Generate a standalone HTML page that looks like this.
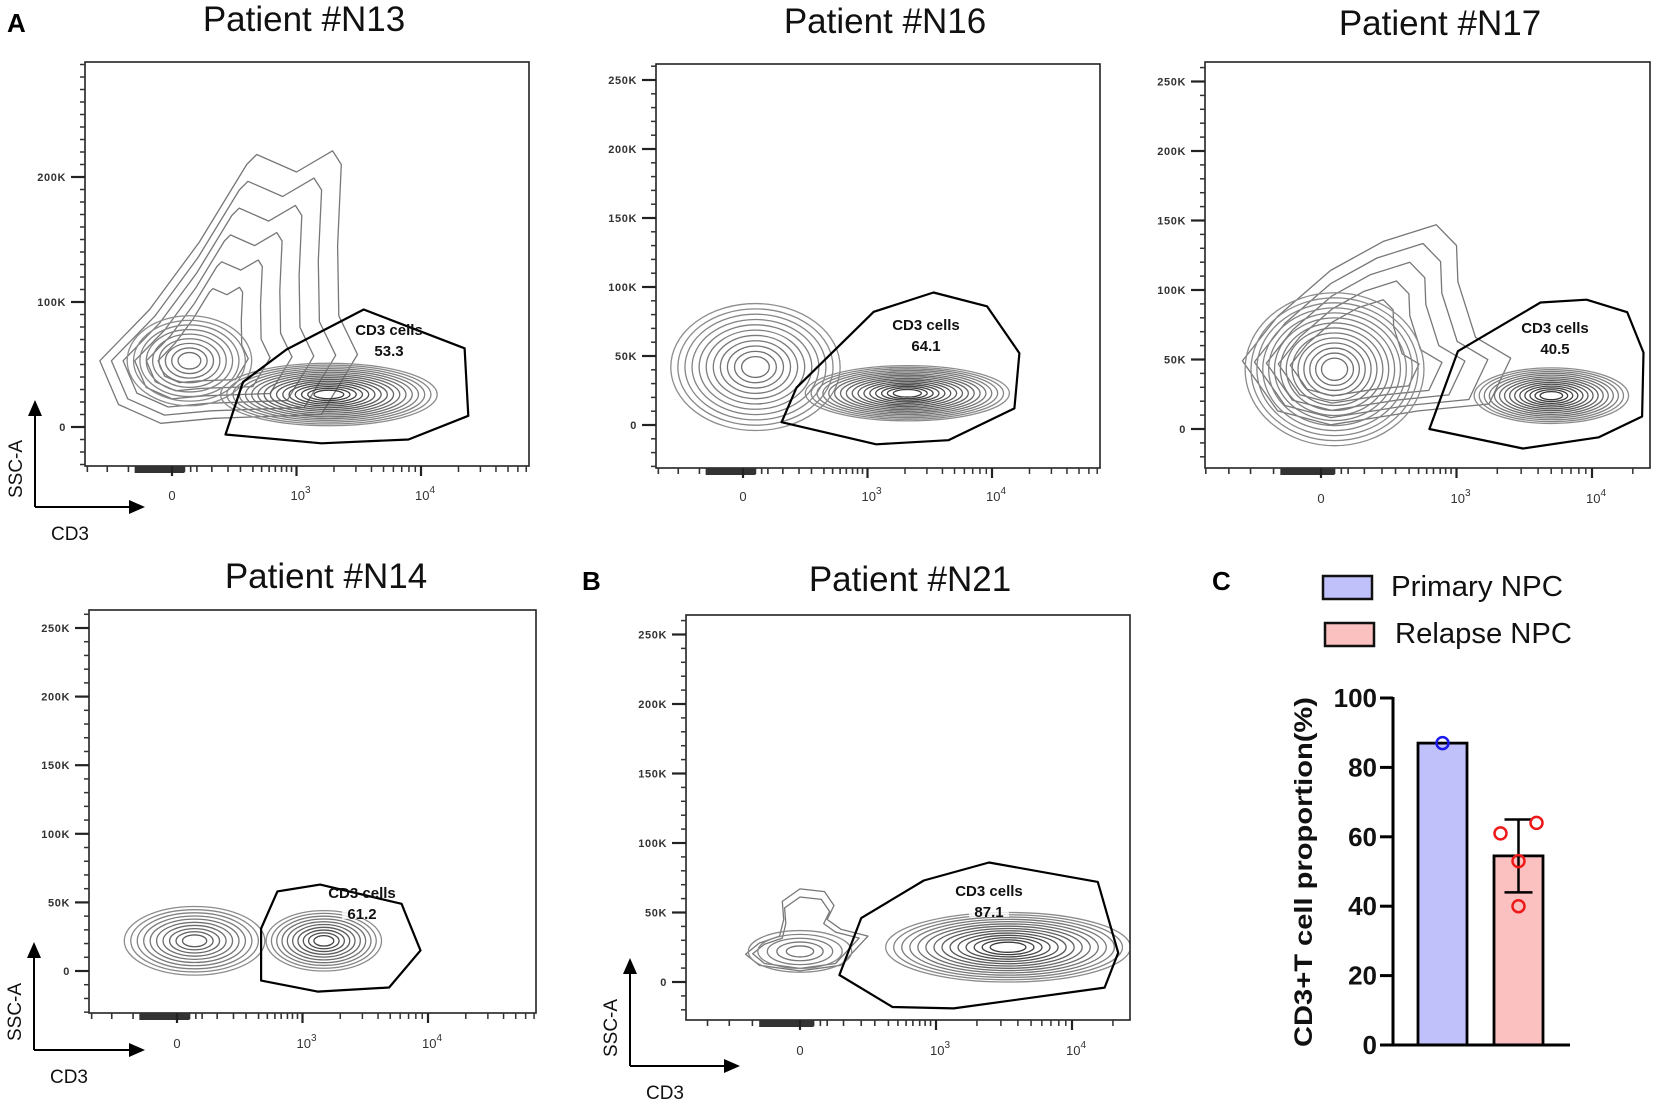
<!DOCTYPE html>
<html><head><meta charset="utf-8">
<style>
html,body{margin:0;padding:0;background:#fff;}
svg{display:block;}
text{font-family:"Liberation Sans",sans-serif;}
</style></head>
<body>
<svg id="fig" width="1655" height="1102" viewBox="0 0 1655 1102" xmlns="http://www.w3.org/2000/svg">
<text x="7" y="32" font-size="26" font-weight="bold">A</text>
<text x="582" y="590" font-size="26" font-weight="bold">B</text>
<text x="1212" y="590" font-size="26" font-weight="bold">C</text>
</svg>
<script>
// ---------- flow cytometry data (x in decades: 0 -> "0", 1 -> 10^3, 2 -> 10^4; y in K) ----------
const panelTitles = ["Patient #N13","Patient #N16","Patient #N17","Patient #N14","Patient #N21"];
const gatePercents = ["53.3","64.1","40.5","61.2","87.1"];
const yTicksN13 = [0,100,200];
const yTicksStd = [0,50,100,150,200,250];
const xTickLabels = ["0","10","10"];
const xTickExp = ["","3","4"];
const xTickDec = [0,1,2];
const gateN13 = [[0.43,-6],[0.57,36],[0.92,62],[1.54,94],[2.35,63],[2.38,9],[1.90,-10],[1.20,-13]];
const gateN16 = [[0.31,2],[0.43,27],[1.05,82],[1.53,96],[1.96,86],[2.22,52],[2.18,12],[1.65,-11],[1.07,-14]];
const gateN17 = [[0.80,0],[1.01,56],[1.62,91],[1.96,93],[2.26,84],[2.38,55],[2.37,9],[2.05,-6],[1.49,-14]];
const gateN14 = [[0.67,-7],[0.67,31],[0.80,58],[1.14,63],[1.79,49],[1.82,42],[1.94,15],[1.69,-12],[1.12,-15]];
const gateN21 = [[0.29,5],[0.45,46],[0.91,73],[1.39,86],[2.19,72],[2.34,21],[2.24,-4],[1.13,-19],[0.68,-18]];
// populations: [centerDec, centerK, radiusDec, radiusK, rings, density]
const popsN13 = [[0.14,53,0.5,36,9,0.3],[1.26,26,0.87,25,16,0.8]];
const popsN16 = [[0.1,42,0.68,46,11,0.3],[1.32,23,0.82,20,16,0.8]];
const popsN17 = [[0.1,43,0.66,55,14,0.3],[1.7,24,0.57,20,14,0.85]];
const popsN14 = [[0.14,22,0.56,25,10,0.5],[1.17,22,0.46,22,10,0.75]];
const popsN21 = [[0.0,22,0.38,15,5,0.3],[1.53,25,0.9,25,14,0.8]];
// irregular outer contours
const outerN13 = [[-0.58,53],[-0.18,94],[0.22,148],[0.6,210],[0.68,218],[1.0,204],[1.29,221],[1.36,210],[1.33,145],[1.34,89],[1.49,58],[1.2,10],[0.34,7],[-0.09,3],[-0.43,18]];
const outerN17 = [[-0.58,49],[-0.32,81],[0.07,114],[0.46,135],[0.85,147],[1.0,132],[1.01,106],[1.14,66],[1.4,51],[1.24,18],[0.72,13],[0.07,3],[-0.32,13]];
const outerN21 = [[-0.4,20],[-0.3,28],[-0.15,33],[-0.12,45],[-0.13,58],[0,67],[0.18,65],[0.25,55],[0.2,45],[0.3,38],[0.5,33],[0.3,12],[0,8],[-0.3,12]];

// ---------- bar chart data ----------
const barCategories = ["Primary NPC","Relapse NPC"];
const barMeans = [87, 54.5];
const barSD = [0, 10.5];
const primaryPoints = [87];
const relapsePoints = [61, 64, 53, 40];
const barYTicks = [0,20,40,60,80,100];

const NS = "http://www.w3.org/2000/svg";
const svg = document.getElementById('fig');
function mk(tag, attrs, parent){
  const e = document.createElementNS(NS, tag);
  for (const k in attrs) e.setAttribute(k, attrs[k]);
  (parent||svg).appendChild(e);
  return e;
}

const layouts = [
  {tx:304, ty:31, box:[85,62,529,466], x0:172, dpx:124.5, y0:427, kpx:1.25, yt:yTicksN13, ymax:290, gate:gateN13, pops:popsN13, outer:outerN13, orings:6, lbl:[389,330], arrow:true, xl:495, name:'n13', ax:35, atop:400, acorner:507, aright:145},
  {tx:885, ty:33, box:[656,64,1100,468], x0:743, dpx:124.5, y0:425, kpx:1.38, yt:yTicksStd, ymax:262, gate:gateN16, pops:popsN16, outer:null, orings:0, lbl:[926,325], arrow:false, xl:496, name:'n16'},
  {tx:1440, ty:35, box:[1205,62,1650,468], x0:1321, dpx:135.5, y0:429, kpx:1.39, yt:yTicksStd, ymax:262, gate:gateN17, pops:popsN17, outer:outerN17, orings:5, lbl:[1555,328], arrow:false, xl:498, name:'n17'},
  {tx:326, ty:588, box:[89,610,536,1013], x0:177, dpx:125.5, y0:971, kpx:1.372, yt:yTicksStd, ymax:262, gate:gateN14, pops:popsN14, outer:null, orings:0, lbl:[362,893], arrow:true, xl:1043, name:'n14', ax:34, atop:942, acorner:1050, aright:145},
  {tx:910, ty:591, box:[686,615,1130,1020], x0:800, dpx:136, y0:982, kpx:1.39, yt:yTicksStd, ymax:262, gate:gateN21, pops:popsN21, outer:outerN21, orings:2, lbl:[989,891], arrow:true, xl:1050, name:'n21', ax:630, atop:958, acorner:1066, aright:740}
];

layouts.forEach((L, i) => {
  const g = mk('g', {});
  
  
  const X = d => L.x0 + d * L.dpx;
  const Y = k => L.y0 - k * L.kpx;
  const [bx0, by0, bx1, by1] = L.box;
  const t = mk('text', {x:L.tx, y:L.ty, 'font-size':35, 'text-anchor':'middle', fill:'#111'}, g);
  t.textContent = panelTitles[i];
  
  
  const clip = mk('clipPath', {id:'clip'+i}, g);
  mk('rect', {x:bx0, y:by0, width:bx1-bx0, height:by1-by0}, clip);
  const plot = mk('g', {'clip-path':'url(#clip'+i+')'}, g);
  
  
  if (L.outer) {
    const c = L.pops[0];
    for (let j = 0; j < L.orings; j++) {
      const s = 1 - j * 0.13;
      const pts = L.outer.map(p => X(c[0] + (p[0]-c[0])*s).toFixed(1) + ',' + Y(c[1] + (p[1]-c[1])*s).toFixed(1)).join(' ');
      const pg = mk('polygon', {points:pts, fill:'none', stroke:'#777', 'stroke-width':1.3, 'stroke-linejoin':'round'}, plot);
      
      
    }
  }
  L.pops.forEach(p => {
    const [cd, ck, rd, rk, n, dens] = p;
    for (let j = 0; j < n; j++) {
      const s = 1 - j / n * 0.92;
      const shade = Math.round(140 - dens * 110 * (j / n));
      const col = 'rgb(' + shade + ',' + shade + ',' + shade + ')';
      const el = mk('ellipse', {cx:X(cd), cy:Y(ck), rx:rd*L.dpx*s, ry:rk*L.kpx*s, fill:'none', stroke:col, 'stroke-width':1.3}, plot);
      
      
    }
  });
  const gp = L.gate.map(p => X(p[0]).toFixed(1) + ',' + Y(p[1]).toFixed(1)).join(' ');
  const gate = mk('polygon', {points:gp, fill:'none', stroke:'#000', 'stroke-width':2.2, 'stroke-linejoin':'round'}, g);
  
  
  mk('rect', {x:L.lbl[0]-20, y:L.lbl[1]+8, width:40, height:18, fill:'#fff', opacity:0.8}, g);
  const gl = mk('text', {x:L.lbl[0], y:L.lbl[1]+5, 'font-size':15, 'font-weight':'600', 'text-anchor':'middle', fill:'#111', 'font-family':'DejaVu Sans, sans-serif'}, g);
  gl.textContent = 'CD3 cells';
  
  
  const gv = mk('text', {x:L.lbl[0], y:L.lbl[1]+26, 'font-size':15, 'font-weight':'600', 'text-anchor':'middle', fill:'#111', 'font-family':'DejaVu Sans, sans-serif'}, g);
  gv.textContent = gatePercents[i];
  
  
  const box = mk('rect', {x:bx0, y:by0, width:bx1-bx0, height:by1-by0, fill:'none', stroke:'#222', 'stroke-width':1.6}, g);
  
  
  for (let k = 0; k <= L.ymax; k += 10) {
    if (Y(k) < by0) break;
    mk('line', {x1:bx0-5, x2:bx0, y1:Y(k), y2:Y(k), stroke:'#333', 'stroke-width':1.5}, g);
  }
  for (let k = -10; k >= -30; k -= 10) { if (Y(k) < by1) mk('line', {x1:bx0-5, x2:bx0, y1:Y(k), y2:Y(k), stroke:'#333', 'stroke-width':1.5}, g); }
  L.yt.forEach(k => {
    mk('line', {x1:bx0-14, x2:bx0, y1:Y(k), y2:Y(k), stroke:'#222', 'stroke-width':2.2}, g);
    const tl = mk('text', {x:bx0-19, y:Y(k)+4, 'font-size':11, 'font-weight':'bold', 'text-anchor':'end', fill:'#333', 'letter-spacing':'0.6'}, g);
    tl.textContent = k === 0 ? '0' : k + 'K';
    
    
  });
  const minor = [-0.85,-0.68,-0.52,-0.35,-0.26,-0.2,-0.15,-0.1,-0.05,0.05,0.1,0.15,0.2,0.32,0.45,0.55,0.65,0.72,0.78,0.83,0.88,0.92,0.96];
  minor.forEach(d => { const x = X(d); if (x > bx0 && x < bx1) mk('line', {x1:x, x2:x, y1:by1, y2:by1+6, stroke:'#333', 'stroke-width':1.6}, g); });
  for (let dec = 1; dec <= 2; dec++) for (let m = 2; m <= 9; m++) {
    const x = X(dec + Math.log10(m)); if (x < bx1) mk('line', {x1:x, x2:x, y1:by1, y2:by1+6, stroke:'#333', 'stroke-width':1.5}, g);
  }
  mk('rect', {x:X(-0.3), y:by1, width:X(0.1)-X(-0.3), height:7, fill:'#333'}, g);
  xTickDec.forEach((d, j) => {
    mk('line', {x1:X(d), x2:X(d), y1:by1, y2:by1+10, stroke:'#222', 'stroke-width':2.2}, g);
    const xl = mk('text', {x:X(d)+(j?4:0), y:L.xl+5, 'font-size':13, 'text-anchor':'middle', fill:'#333'}, g);
    xl.textContent = xTickLabels[j];
    if (xTickExp[j]) { const sp = mk('tspan', {dy:-7, 'font-size':10}, xl); sp.textContent = xTickExp[j]; }
    
    
  });
  if (L.arrow) {
    const ag = mk('g', {}, g);
    
    
    mk('line', {x1:L.ax, y1:L.acorner, x2:L.ax, y2:L.atop+14, stroke:'#000', 'stroke-width':2}, ag);
    mk('polygon', {points:(L.ax-7)+','+(L.atop+16)+' '+(L.ax+7)+','+(L.atop+16)+' '+L.ax+','+L.atop, fill:'#000'}, ag);
    mk('line', {x1:L.ax, y1:L.acorner, x2:L.aright-14, y2:L.acorner, stroke:'#000', 'stroke-width':2}, ag);
    mk('polygon', {points:(L.aright-16)+','+(L.acorner-7)+' '+(L.aright-16)+','+(L.acorner+7)+' '+L.aright+','+L.acorner, fill:'#000'}, ag);
    const ya = mk('text', {x:0, y:0, 'font-size':19, 'text-anchor':'middle', fill:'#111', transform:'translate('+(L.ax-13)+','+(L.acorner-38)+') rotate(-90)'}, ag);
    ya.textContent = 'SSC-A';
    
    
    const xa = mk('text', {x:L.ax+35, y:L.acorner+33, 'font-size':19, 'text-anchor':'middle', fill:'#111'}, ag);
    xa.textContent = 'CD3';
    
    
  }
});

// ---------- bar chart (panel C) ----------
(function(){
  const g = mk('g', {});
  
  
  const axX = 1393, y0 = 1045, y100 = 698;
  const Y = v => y0 - v * (y0 - y100) / 100;
  const barX = [1418, 1494], barW = 49;
  const fills = ['#c0c0fb', '#fbc0c0'];
  const dotCols = ['#1a1aee', '#ee1a1a'];
  barCategories.forEach((c, i) => {
    const ly = 576 + i * 47;
    const r = mk('rect', {x:1323+i*2, y:ly, width:49, height:23, fill:fills[i], stroke:'#111', 'stroke-width':2.5}, g);
    
    
    const t = mk('text', {x:1391+i*4, y:ly+20, 'font-size':29, fill:'#111', textLength:i?177:172, lengthAdjust:'spacingAndGlyphs'}, g);
    t.textContent = c;
    
    
  });
  barMeans.forEach((m, i) => {
    const b = mk('rect', {x:barX[i], y:Y(m), width:barW, height:y0-Y(m), fill:fills[i], stroke:'#000', 'stroke-width':2.8}, g);
    
    
    if (barSD[i] > 0) {
      const cx = barX[i] + barW/2;
      const eg = mk('g', {stroke:'#000', 'stroke-width':2.5}, g);
      
      
      mk('line', {x1:cx, x2:cx, y1:Y(m+barSD[i]), y2:Y(m-barSD[i])}, eg);
      mk('line', {x1:cx-14, x2:cx+14, y1:Y(m+barSD[i]), y2:Y(m+barSD[i])}, eg);
      mk('line', {x1:cx-14, x2:cx+14, y1:Y(m-barSD[i]), y2:Y(m-barSD[i])}, eg);
    }
  });
  const jitter = [-18, 18, 0, 0];
  primaryPoints.forEach(v => {
    const c = mk('circle', {cx:barX[0]+barW/2, cy:Y(v), r:6, fill:'none', stroke:dotCols[0], 'stroke-width':2.5}, g);
    
    
  });
  relapsePoints.forEach((v, j) => {
    const c = mk('circle', {cx:barX[1]+barW/2+jitter[j], cy:Y(v), r:6, fill:'none', stroke:dotCols[1], 'stroke-width':2.5}, g);
    
    
  });
  mk('line', {x1:axX, x2:axX, y1:Y(100)-1, y2:y0+1.5, stroke:'#000', 'stroke-width':3}, g);
  mk('line', {x1:axX-1.5, x2:1570, y1:y0, y2:y0, stroke:'#000', 'stroke-width':3}, g);
  barYTicks.forEach(v => {
    mk('line', {x1:axX-13, x2:axX, y1:Y(v), y2:Y(v), stroke:'#000', 'stroke-width':3}, g);
    const t = mk('text', {x:axX-16, y:Y(v)+9, 'font-size':26, 'font-weight':'bold', 'text-anchor':'end', fill:'#111'}, g);
    t.textContent = v;
    
    
  });
  const yt = mk('text', {x:0, y:0, 'font-size':25, 'font-weight':'bold', 'text-anchor':'middle', fill:'#111', textLength:350, lengthAdjust:'spacingAndGlyphs', transform:'translate(1312,872) rotate(-90)'}, g);
  yt.textContent = 'CD3+T cell proportion(%)';
  
  
})();
</script>
</body></html>
